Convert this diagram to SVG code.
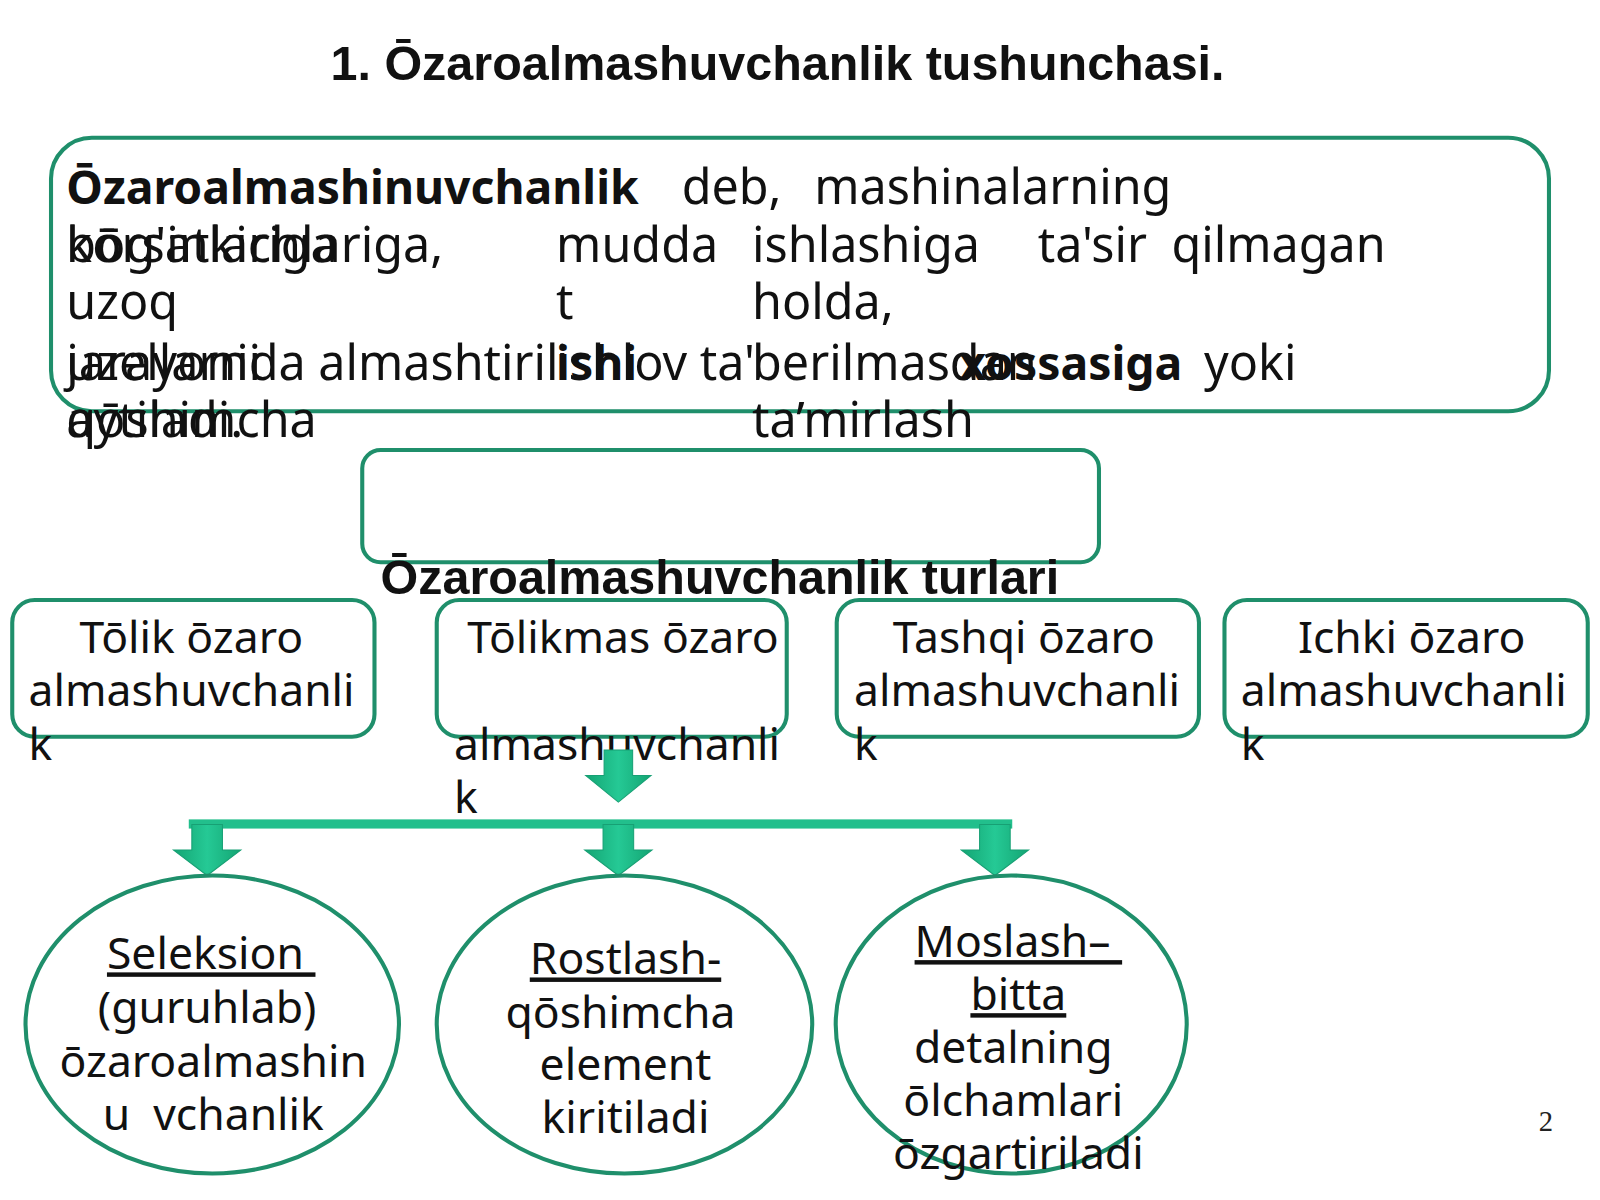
<svg xmlns="http://www.w3.org/2000/svg" width="1600" height="1200" viewBox="0 0 1600 1200">
<style>
.t{font-family:"Noto Sans","Open Sans","DejaVu Sans",sans-serif;fill:#111}
.h{font-family:"Liberation Sans",Arial,sans-serif;font-weight:bold;fill:#111}
.box{fill:#fff;stroke:#1f8f6b;stroke-width:4}
.m{font-size:47.5px}
.mb{font-size:45.4px;font-weight:bold}
.s{font-size:43.6px}
.u{text-decoration:underline}
.arr{fill:url(#ag);stroke:#17a074;stroke-width:1}
</style>
<defs>
<linearGradient id="ag" x1="0" y1="0" x2="1" y2="0">
<stop offset="0" stop-color="#14a573"/>
<stop offset="0.5" stop-color="#25c995"/>
<stop offset="1" stop-color="#14a573"/>
</linearGradient>
</defs>
<rect width="1600" height="1200" fill="#fff"/>
<g transform="scale(1.0204)">
<text class="h" x="762" y="78" font-size="47.5" text-anchor="middle">1. Ōzaroalmashuvchanlik tushunchasi.</text>

<g id="definition">
<rect class="box" x="50" y="135" width="1468" height="268" rx="40"/>
<g class="t m">
<text x="65" y="200" class="mb">Ōzaroalmashinuvchanlik</text>
<text x="668" y="200">deb,</text>
<text x="798" y="200">mashinalarning</text>
<text x="65" y="257">kōrsatkichlariga,</text>
<text x="65" y="257">bōg'inlariga</text>
<text x="545" y="257">mudda</text>
<text x="737" y="257">ishlashiga</text>
<text x="1017" y="257">ta'sir</text>
<text x="1148" y="257">qilmagan</text>
<text x="65" y="313">uzoq</text>
<text x="545" y="313">t</text>
<text x="737" y="313">holda,</text>
<text x="65" y="372">jarayonida almashtiril</text>
<text x="65" y="372">uzellarni</text>
<text x="545" y="372">ishlov ta'</text>
<text x="545" y="372" class="mb">ishi</text>
<text x="737" y="372">berilmasdan</text>
<text x="940" y="372" class="mb">xossasiga</text>
<text x="1180" y="372">yoki</text>
<text x="65" y="428">qōshimcha</text>
<text x="65" y="428">aytiladi.</text>
<text x="737" y="428">ta’mirlash</text>
</g>
</g>

<g id="types-title">
<rect class="box" x="355" y="441" width="722" height="110" rx="18"/>
<text class="h" x="373" y="582" font-size="47.5">Ōzaroalmashuvchanlik turlari</text>
</g>

<g id="full">
<rect class="box" x="12" y="588" width="355" height="134" rx="22"/>
<g class="t s"><text x="78" y="640">Tōlik ōzaro</text><text x="28" y="692">almashuvchanli</text><text x="28" y="745">k</text></g>
</g>
<g id="partial">
<rect class="box" x="428" y="588" width="343" height="134" rx="22"/>
<g class="t s"><text x="458" y="640">Tōlikmas ōzaro</text><text x="445" y="745">almashuvchanli</text><text x="445" y="797">k</text></g>
</g>
<g id="external">
<rect class="box" x="820" y="588" width="355" height="134" rx="22"/>
<g class="t s"><text x="875" y="640">Tashqi ōzaro</text><text x="837" y="692">almashuvchanli</text><text x="837" y="745">k</text></g>
</g>
<g id="internal">
<rect class="box" x="1200" y="588" width="356" height="134" rx="22"/>
<g class="t s"><text x="1272" y="640">Ichki ōzaro</text><text x="1216" y="692">almashuvchanli</text><text x="1216" y="745">k</text></g>
</g>

<g id="connectors">
<path class="arr" d="M592,735 H620 V760 H638 L606,786 L574,760 H592 Z"/>
<rect x="185" y="803" width="807" height="9" fill="#22bf8c"/>
<path class="arr" d="M188,808 H218 V833 H236 L203,858 L170,833 H188 Z"/>
<path class="arr" d="M591,808 H621 V833 H639 L606,858 L573,833 H591 Z"/>
<path class="arr" d="M960,808 H990 V833 H1008 L975,858 L942,833 H960 Z"/>
</g>

<g id="selective">
<ellipse class="box" cx="208" cy="1004" rx="183" ry="146"/>
<g class="t s" text-anchor="middle">
<text x="207" y="950" class="u">Seleksion&#160;</text>
<text x="203" y="1003">(guruhlab)</text>
<text x="209" y="1055">ōzaroalmashin</text>
<text x="209" y="1107">u&#160;&#160;vchanlik</text>
</g>
</g>
<g id="adjust">
<ellipse class="box" cx="612" cy="1004" rx="184" ry="146"/>
<g class="t s" text-anchor="middle">
<text x="613" y="955" class="u">Rostlash-</text>
<text x="608" y="1007">qōshimcha</text>
<text x="613" y="1058">element</text>
<text x="613" y="1110">kiritiladi</text>
</g>
</g>
<g id="fit">
<ellipse class="box" cx="991" cy="1004" rx="172" ry="146"/>
<g class="t s" text-anchor="middle">
<text x="998" y="938" class="u">Moslash–&#160;</text>
<text x="998" y="990" class="u">bitta</text>
<text x="993" y="1042">detalning</text>
<text x="993" y="1094">ōlchamlari</text>
<text x="998" y="1146">ōzgartiriladi</text>
</g>
</g>
<text x="1515" y="1108" font-family="Liberation Serif,serif" font-size="28" fill="#222" text-anchor="middle">2</text>
</g>
</svg>
